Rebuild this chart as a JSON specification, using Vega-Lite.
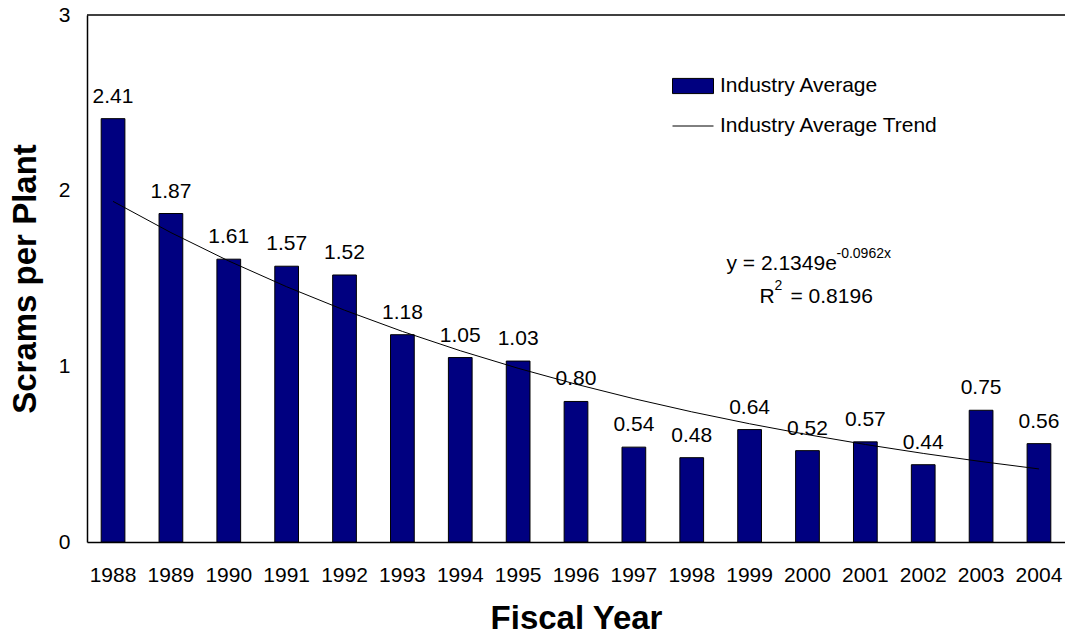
{
  "$schema": "https://vega.github.io/schema/vega-lite/v6.json",
  "autosize": {"type": "none"},
  "padding": {"left": 87, "top": 15, "right": 0, "bottom": 99},
  "width": 978,
  "height": 527,
  "background": "white",
  "config": {
    "view": {"stroke": null},
    "font": "Liberation Sans",
    "text": {"font": "Liberation Sans"}
  },
  "datasets": {
    "scrams": [
      {"year": "1988", "value": 2.41, "trend": 1.9391},
      {"year": "1989", "value": 1.87, "trend": 1.7613},
      {"year": "1990", "value": 1.61, "trend": 1.5997},
      {"year": "1991", "value": 1.57, "trend": 1.4530},
      {"year": "1992", "value": 1.52, "trend": 1.3197},
      {"year": "1993", "value": 1.18, "trend": 1.1987},
      {"year": "1994", "value": 1.05, "trend": 1.0888},
      {"year": "1995", "value": 1.03, "trend": 0.9889},
      {"year": "1996", "value": 0.80, "trend": 0.8982},
      {"year": "1997", "value": 0.54, "trend": 0.8158},
      {"year": "1998", "value": 0.48, "trend": 0.7410},
      {"year": "1999", "value": 0.64, "trend": 0.6730},
      {"year": "2000", "value": 0.52, "trend": 0.6113},
      {"year": "2001", "value": 0.57, "trend": 0.5552},
      {"year": "2002", "value": 0.44, "trend": 0.5043},
      {"year": "2003", "value": 0.75, "trend": 0.4581},
      {"year": "2004", "value": 0.56, "trend": 0.4160}
    ],
    "one": [{}]
  },
  "layer": [
    {
      "data": {"name": "scrams"},
      "mark": {"type": "bar", "stroke": "black", "strokeWidth": 1},
      "encoding": {
        "x": {
          "field": "year", "type": "nominal", "sort": null,
          "scale": {"paddingInner": 0.59, "paddingOuter": 0.245},
          "axis": {
            "title": "Fiscal Year", "labelAngle": 0, "tickSize": 0, "ticks": false,
            "domainColor": "black", "domainWidth": 1.5,
            "labelFontSize": 21, "labelColor": "black", "labelPadding": 22,
            "titleFontSize": 33, "titleFontWeight": "bold", "titleColor": "black", "titlePadding": 17
          }
        },
        "y": {
          "field": "value", "type": "quantitative",
          "scale": {"domain": [0, 3], "nice": false},
          "axis": {
            "title": "Scrams per Plant", "values": [0, 1, 2, 3], "format": "d", "grid": false, "ticks": false,
            "domainColor": "black", "domainWidth": 1.5,
            "labelFontSize": 21, "labelColor": "black", "labelPadding": 17,
            "titleFontSize": 33, "titleFontWeight": "bold", "titleColor": "black", "titlePadding": 16
          }
        },
        "fill": {
          "datum": "Industry Average", "type": "nominal",
          "scale": {"range": ["#000080"]},
          "legend": {
            "orient": "none", "legendX": 585, "legendY": 50, "title": null, "padding": 0,
            "symbolType": "M-1,-0.37H1V0.37H-1Z", "symbolSize": 1681,
            "symbolStrokeColor": "black", "symbolStrokeWidth": 1, "symbolFillColor": "#000080",
            "labelFontSize": 21, "labelColor": "black", "labelOffset": 6, "labelLimit": 400
          }
        }
      }
    },
    {
      "data": {"name": "scrams"},
      "mark": {"type": "line", "strokeWidth": 1},
      "encoding": {
        "x": {"field": "year", "type": "nominal", "sort": null},
        "y": {"field": "trend", "type": "quantitative"},
        "stroke": {
          "datum": "Industry Average Trend", "type": "nominal",
          "scale": {"range": ["black"]},
          "legend": {
            "orient": "none", "legendX": 585, "legendY": 90, "title": null, "padding": 0,
            "symbolType": "stroke", "symbolSize": 1681, "symbolStrokeWidth": 1,
            "labelFontSize": 21, "labelColor": "black", "labelOffset": 6, "labelLimit": 400
          }
        }
      }
    },
    {
      "data": {"name": "scrams"},
      "mark": {"type": "text", "fontSize": 21, "color": "black", "baseline": "alphabetic", "dy": -16},
      "encoding": {
        "x": {"field": "year", "type": "nominal", "sort": null},
        "y": {"field": "value", "type": "quantitative"},
        "text": {"field": "value", "type": "quantitative", "format": ".2f"}
      }
    },
    {
      "data": {"name": "one"},
      "mark": {"type": "rule", "color": "black", "strokeWidth": 1.5},
      "encoding": {"y": {"datum": 3}}
    },
    {
      "data": {"name": "one"},
      "mark": {"type": "text", "fontSize": 21, "color": "black", "align": "left", "baseline": "alphabetic", "dx": -81},
      "encoding": {"x": {"datum": "2000"}, "y": {"datum": 1.548}, "text": {"value": "y = 2.1349e"}}
    },
    {
      "data": {"name": "one"},
      "mark": {"type": "text", "fontSize": 14, "color": "black", "align": "left", "baseline": "alphabetic", "dx": 29},
      "encoding": {"x": {"datum": "2000"}, "y": {"datum": 1.617}, "text": {"value": "-0.0962x"}}
    },
    {
      "data": {"name": "one"},
      "mark": {"type": "text", "fontSize": 21, "color": "black", "align": "left", "baseline": "alphabetic", "dx": -48},
      "encoding": {"x": {"datum": "2000"}, "y": {"datum": 1.361}, "text": {"value": "R"}}
    },
    {
      "data": {"name": "one"},
      "mark": {"type": "text", "fontSize": 14, "color": "black", "align": "left", "baseline": "alphabetic", "dx": -33},
      "encoding": {"x": {"datum": "2000"}, "y": {"datum": 1.435}, "text": {"value": "2"}}
    },
    {
      "data": {"name": "one"},
      "mark": {"type": "text", "fontSize": 21, "color": "black", "align": "left", "baseline": "alphabetic", "dx": -17},
      "encoding": {"x": {"datum": "2000"}, "y": {"datum": 1.361}, "text": {"value": "= 0.8196"}}
    }
  ],
  "resolve": {"scale": {"stroke": "independent", "fill": "independent"}}
}
